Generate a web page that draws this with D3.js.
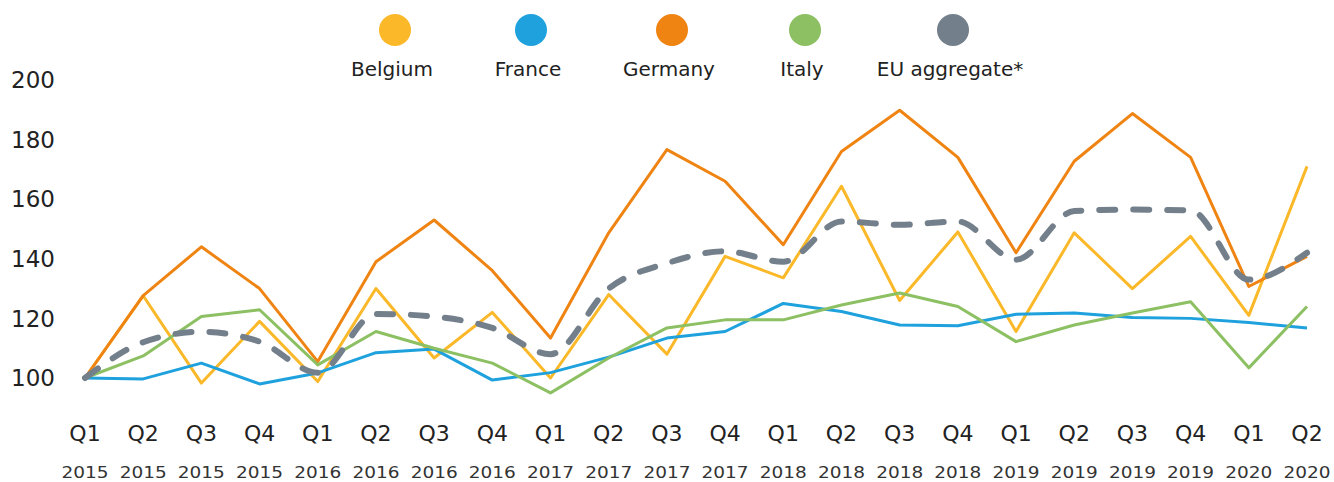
<!DOCTYPE html>
<html>
<head>
<meta charset="utf-8">
<script src="https://cdn.jsdelivr.net/npm/d3@7"></script>
<style>
  body { margin: 0; background: #fff; }
  svg { display: block; font-family: "DejaVu Sans", sans-serif; }
</style>
</head>
<body>
<div id="chart"></div>
<script>
// Quarterly index (Q1 2015 = 100) for four countries plus the EU aggregate

const quarters = ["Q1","Q2","Q3","Q4","Q1","Q2","Q3","Q4","Q1","Q2","Q3","Q4",
                  "Q1","Q2","Q3","Q4","Q1","Q2","Q3","Q4","Q1","Q2"];
const years = ["2015","2015","2015","2015","2016","2016","2016","2016","2017","2017","2017","2017",
               "2018","2018","2018","2018","2019","2019","2019","2019","2020","2020"];
const yTicks = [100, 120, 140, 160, 180, 200];

const belgium = [100, 127.6, 98.3, 119, 98.8, 130, 106.7, 122, 100, 128, 108, 140.8,
                 133.6, 164.3, 126, 149, 115.6, 148.7, 130, 147.5, 121, 171];
const france  = [100, 99.7, 105, 98, 101.7, 108.5, 109.7, 99.3, 101.8, 107, 113.4, 115.6,
                 125, 122.3, 117.8, 117.5, 121.4, 121.8, 120.3, 120, 118.6, 116.8];
const germany = [100, 127.6, 144, 130, 105.5, 139, 153, 136, 113.4, 148.7, 176.6, 166,
                 144.7, 176, 189.8, 174, 142, 172.7, 188.7, 174, 130.7, 140.8];
const italy   = [100, 107.4, 120.6, 122.9, 104.4, 115.6, 110, 105, 95, 106.7, 116.8, 119.5,
                 119.5, 124.5, 128.5, 124, 112.2, 117.8, 121.8, 125.6, 103.4, 124];
const euAggregate = [100, 112, 115.5, 112.2, 101.8, 121.5, 120.6, 116.8, 108, 130, 138.5, 142.5,
                     139, 152.5, 151.4, 152.5, 139.7, 156, 156.5, 156.2, 133, 142];

const seriesNames = ["Belgium", "France", "Germany", "Italy", "EU aggregate*"];
const seriesValues = [belgium, france, germany, italy, euAggregate];
const seriesColors = ["#fbb829", "#1ea1dd", "#ef8413", "#8cc063", "#737f8a"];

const width = 1334, height = 482;

const svg = d3.select("#chart")
  .append("svg")
  .attr("width", width)
  .attr("height", height);

// Scales
const x = d3.scalePoint()
  .domain(d3.range(quarters.length))
  .range([85, 1307]);

const y = d3.scaleLinear()
  .domain([100, 180])
  .range([378, 139.5]);

// Y-axis labels (no axis line or ticks in the original)
svg.append("g")
  .selectAll("text")
  .data(yTicks)
  .enter()
  .append("text")
  .attr("x", 55)
  .attr("y", d => y(d))
  .attr("dy", "0.36em")
  .attr("text-anchor", "end")
  .style("font-size", "23px")
  .style("fill", "#222")
  .text(d => d);

// X-axis labels: quarter on top, year below
const xLabels = svg.append("g");
xLabels.selectAll(".q")
  .data(quarters)
  .enter()
  .append("text")
  .attr("class", "q")
  .attr("x", (d, i) => x(i))
  .attr("y", 441)
  .attr("text-anchor", "middle")
  .style("font-size", "22px")
  .style("fill", "#222")
  .text(d => d);

xLabels.selectAll(".yr")
  .data(years)
  .enter()
  .append("text")
  .attr("class", "yr")
  .attr("x", (d, i) => x(i))
  .attr("y", 478)
  .attr("text-anchor", "middle")
  .attr("textLength", 47)
  .attr("lengthAdjust", "spacingAndGlyphs")
  .style("font-size", "16px")
  .style("fill", "#333")
  .text(d => d);

// Lines
const line = d3.line()
  .x((d, i) => x(i))
  .y(d => y(d));

const smoothLine = d3.line()
  .x((d, i) => x(i))
  .y(d => y(d))
  .curve(d3.curveMonotoneX);

seriesValues.forEach((vals, k) => {
  const isEU = k === 4;
  svg.append("path")
    .datum(vals)
    .attr("fill", "none")
    .attr("stroke", seriesColors[k])
    .attr("stroke-width", isEU ? 6 : 3)
    .attr("stroke-linejoin", "round")
    .attr("stroke-linecap", isEU ? "round" : "butt")
    .attr("stroke-dasharray", isEU ? "16 18" : null)
    .attr("d", isEU ? smoothLine(vals) : line(vals));
});

// Legend
const legendX = [395, 531, 672, 805, 953];
const legend = svg.append("g")
  .selectAll("g")
  .data(seriesNames)
  .enter()
  .append("g")
  .attr("transform", (d, i) => `translate(${legendX[i]},0)`);

legend.append("circle")
  .attr("cy", 30)
  .attr("r", 16)
  .attr("fill", (d, i) => seriesColors[i]);

legend.append("text")
  .attr("x", -3)
  .attr("y", 76)
  .attr("text-anchor", "middle")
  .style("font-size", "20px")
  .style("fill", "#222")
  .text(d => d);
</script>
</body>
</html>
